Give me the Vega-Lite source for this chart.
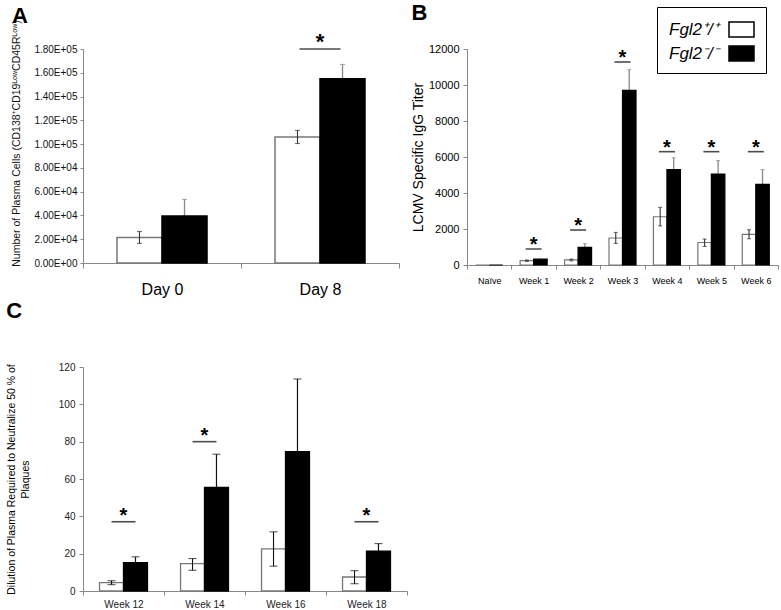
{
  "$schema": "https://vega.github.io/schema/vega-lite/v6.json",
  "background": "white",
  "padding": {"left": 6, "top": 1, "right": 2, "bottom": 2},
  "config": {
    "view": {"stroke": null},
    "font": "Liberation Sans",
    "axis": {"grid": false, "domainColor": "#888", "tickColor": "#888", "labelColor": "#111", "titleColor": "#111", "titleFontWeight": "normal", "labelFont": "Liberation Sans", "titleFont": "Liberation Sans", "labelOverlap": false},
    "axisY": {"labelOverlap": false},
    "title": {"font": "Liberation Sans", "fontWeight": "bold", "fontSize": 22, "anchor": "start", "frame": "bounds", "color": "#000"}
  },
  "datasets": {
    "a": [
      {"time": "Day 0", "genotype": "Fgl2+/+", "value": 21500, "lo": 16500, "hi": 26500},
      {"time": "Day 0", "genotype": "Fgl2-/-", "value": 39500, "lo": 25500, "hi": 53500},
      {"time": "Day 8", "genotype": "Fgl2+/+", "value": 106000, "lo": 100500, "hi": 111500},
      {"time": "Day 8", "genotype": "Fgl2-/-", "value": 155000, "lo": 143000, "hi": 167000}
    ],
    "aSig": [{"time": "Day 8", "level": 180000}],
    "b": [
      {"time": "Naïve", "genotype": "Fgl2+/+", "value": 0, "lo": 0, "hi": 0},
      {"time": "Naïve", "genotype": "Fgl2-/-", "value": 0, "lo": 0, "hi": 0},
      {"time": "Week 1", "genotype": "Fgl2+/+", "value": 240, "lo": 200, "hi": 280},
      {"time": "Week 1", "genotype": "Fgl2-/-", "value": 330, "lo": 290, "hi": 370},
      {"time": "Week 2", "genotype": "Fgl2+/+", "value": 280, "lo": 230, "hi": 330},
      {"time": "Week 2", "genotype": "Fgl2-/-", "value": 980, "lo": 780, "hi": 1185},
      {"time": "Week 3", "genotype": "Fgl2+/+", "value": 1500, "lo": 1200, "hi": 1810},
      {"time": "Week 3", "genotype": "Fgl2-/-", "value": 9700, "lo": 8580, "hi": 10850},
      {"time": "Week 4", "genotype": "Fgl2+/+", "value": 2680, "lo": 2170, "hi": 3200},
      {"time": "Week 4", "genotype": "Fgl2-/-", "value": 5300, "lo": 4640, "hi": 5960},
      {"time": "Week 5", "genotype": "Fgl2+/+", "value": 1250, "lo": 1030, "hi": 1440},
      {"time": "Week 5", "genotype": "Fgl2-/-", "value": 5050, "lo": 4300, "hi": 5800},
      {"time": "Week 6", "genotype": "Fgl2+/+", "value": 1700, "lo": 1460, "hi": 1960},
      {"time": "Week 6", "genotype": "Fgl2-/-", "value": 4480, "lo": 3670, "hi": 5300}
    ],
    "bSig": [
      {"time": "Week 1", "level": 890},
      {"time": "Week 2", "level": 1944},
      {"time": "Week 3", "level": 11278},
      {"time": "Week 4", "level": 6296},
      {"time": "Week 5", "level": 6296},
      {"time": "Week 6", "level": 6296}
    ],
    "c": [
      {"time": "Week 12", "genotype": "Fgl2+/+", "value": 4.5, "lo": 3.4, "hi": 5.5},
      {"time": "Week 12", "genotype": "Fgl2-/-", "value": 15.2, "lo": 12.1, "hi": 18.3},
      {"time": "Week 14", "genotype": "Fgl2+/+", "value": 14.7, "lo": 11.1, "hi": 17.4},
      {"time": "Week 14", "genotype": "Fgl2-/-", "value": 55.5, "lo": 37.7, "hi": 73.3},
      {"time": "Week 16", "genotype": "Fgl2+/+", "value": 22.6, "lo": 13.3, "hi": 31.7},
      {"time": "Week 16", "genotype": "Fgl2-/-", "value": 74.7, "lo": 35.8, "hi": 113.6},
      {"time": "Week 18", "genotype": "Fgl2+/+", "value": 7.5, "lo": 3.9, "hi": 10.9},
      {"time": "Week 18", "genotype": "Fgl2-/-", "value": 21.3, "lo": 17.2, "hi": 25.4}
    ],
    "cSig": [
      {"time": "Week 12", "level": 37.1},
      {"time": "Week 14", "level": 80},
      {"time": "Week 18", "level": 37.1}
    ]
  },
  "resolve": {"scale": {"fill": "independent", "xOffset": "independent"}, "legend": {"fill": "independent"}},
  "spacing": 3,
  "vconcat": [
    {
      "resolve": {"scale": {"fill": "independent", "xOffset": "independent"}, "legend": {"fill": "independent"}},
      "spacing": 11,
      "hconcat": [
        {
          "width": 316,
          "height": 214,
          "title": {"text": "A", "offset": -8},
          "encoding": {
            "x": {"field": "time", "type": "nominal", "scale": {"domain": ["Day 0", "Day 8"], "paddingInner": 0, "paddingOuter": 0},
              "axis": {"title": null, "labelAngle": 0, "tickBand": "extent", "labelFontSize": 16, "labelPadding": 13, "tickSize": 5, "labelColor": "#000"}}
          },
          "layer": [
            {
              "data": {"name": "a"},
              "transform": [{"filter": "datum.genotype == 'Fgl2-/-'"}],
              "mark": {"type": "rule", "strokeWidth": 1.3, "color": "#888"},
              "encoding": {
                "xOffset": {"field": "genotype", "type": "nominal", "scale": {"domain": ["Fgl2+/+", "Fgl2-/-"], "paddingOuter": 0.755, "paddingInner": 0}},
                "y": {"field": "lo", "type": "quantitative", "scale": {"domain": [0, 180000]},
                  "axis": {"title": "Number of Plasma Cells (CD138⁺CD19ᴸᵒʷCD45Rᴸᵒʷ)", "titleFontSize": 10.5, "titlePadding": 12, "titleY": 94, "values": [0, 20000, 40000, 60000, 80000, 100000, 120000, 140000, 160000, 180000], "labelOverlap": false, "labelExpr": "replace(format(datum.value, '.2e'), 'e+', 'E+0')", "labelFontSize": 10, "tickSize": 3, "labelPadding": 3}},
                "y2": {"field": "hi"}
              }
            },
            {
              "data": {"name": "a"},
              "mark": {"type": "bar", "strokeWidth": 1.5},
              "encoding": {
                "xOffset": {"field": "genotype", "type": "nominal", "scale": {"domain": ["Fgl2+/+", "Fgl2-/-"], "paddingOuter": 0.755, "paddingInner": 0}},
                "y": {"field": "value", "type": "quantitative", "scale": {"domain": [0, 180000]},
                  "axis": {"title": "Number of Plasma Cells (CD138⁺CD19ᴸᵒʷCD45Rᴸᵒʷ)", "titleFontSize": 10.5, "titlePadding": 12, "titleY": 94, "values": [0, 20000, 40000, 60000, 80000, 100000, 120000, 140000, 160000, 180000], "labelOverlap": false, "labelExpr": "replace(format(datum.value, '.2e'), 'e+', 'E+0')", "labelFontSize": 10, "tickSize": 3, "labelPadding": 3}},
                "fill": {"field": "genotype", "type": "nominal", "scale": {"domain": ["Fgl2+/+", "Fgl2-/-"], "range": ["#ffffff", "#000000"]}, "legend": null},
                "stroke": {"condition": {"test": "datum.genotype == 'Fgl2+/+'", "value": "#777"}, "value": "#000"}
              }
            },
            {
              "data": {"name": "a"},
              "transform": [{"filter": "datum.genotype == 'Fgl2+/+'"}],
              "mark": {"type": "rule", "strokeWidth": 1.1, "color": "#333"},
              "encoding": {
                "xOffset": {"field": "genotype", "type": "nominal", "scale": {"domain": ["Fgl2+/+", "Fgl2-/-"], "paddingOuter": 0.755, "paddingInner": 0}},
                "y": {"field": "lo", "type": "quantitative", "scale": {"domain": [0, 180000]},
                  "axis": {"title": "Number of Plasma Cells (CD138⁺CD19ᴸᵒʷCD45Rᴸᵒʷ)", "titleFontSize": 10.5, "titlePadding": 12, "titleY": 94, "values": [0, 20000, 40000, 60000, 80000, 100000, 120000, 140000, 160000, 180000], "labelOverlap": false, "labelExpr": "replace(format(datum.value, '.2e'), 'e+', 'E+0')", "labelFontSize": 10, "tickSize": 3, "labelPadding": 3}},
                "y2": {"field": "hi"}
              }
            },
            {
              "data": {"name": "a"},
              "mark": {"type": "tick", "orient": "horizontal", "size": 5, "thickness": 1.1},
              "encoding": {
                "xOffset": {"field": "genotype", "type": "nominal", "scale": {"domain": ["Fgl2+/+", "Fgl2-/-"], "paddingOuter": 0.755, "paddingInner": 0}},
                "y": {"field": "hi", "type": "quantitative", "scale": {"domain": [0, 180000]},
                  "axis": {"title": "Number of Plasma Cells (CD138⁺CD19ᴸᵒʷCD45Rᴸᵒʷ)", "titleFontSize": 10.5, "titlePadding": 12, "titleY": 94, "values": [0, 20000, 40000, 60000, 80000, 100000, 120000, 140000, 160000, 180000], "labelOverlap": false, "labelExpr": "replace(format(datum.value, '.2e'), 'e+', 'E+0')", "labelFontSize": 10, "tickSize": 3, "labelPadding": 3}},
                "color": {"condition": {"test": "datum.genotype == 'Fgl2+/+'", "value": "#333"}, "value": "#888"}
              }
            },
            {
              "data": {"name": "a"},
              "transform": [{"filter": "datum.genotype == 'Fgl2+/+'"}],
              "mark": {"type": "tick", "orient": "horizontal", "size": 5, "thickness": 1.1, "color": "#333"},
              "encoding": {
                "xOffset": {"field": "genotype", "type": "nominal", "scale": {"domain": ["Fgl2+/+", "Fgl2-/-"], "paddingOuter": 0.755, "paddingInner": 0}},
                "y": {"field": "lo", "type": "quantitative", "scale": {"domain": [0, 180000]},
                  "axis": {"title": "Number of Plasma Cells (CD138⁺CD19ᴸᵒʷCD45Rᴸᵒʷ)", "titleFontSize": 10.5, "titlePadding": 12, "titleY": 94, "values": [0, 20000, 40000, 60000, 80000, 100000, 120000, 140000, 160000, 180000], "labelOverlap": false, "labelExpr": "replace(format(datum.value, '.2e'), 'e+', 'E+0')", "labelFontSize": 10, "tickSize": 3, "labelPadding": 3}}
              }
            },
            {
              "data": {"name": "aSig"},
              "mark": {"type": "tick", "orient": "horizontal", "size": 41, "thickness": 1.6, "color": "#000"},
              "encoding": {"y": {"field": "level", "type": "quantitative", "scale": {"domain": [0, 180000]},
                  "axis": {"title": "Number of Plasma Cells (CD138⁺CD19ᴸᵒʷCD45Rᴸᵒʷ)", "titleFontSize": 10.5, "titlePadding": 12, "titleY": 94, "values": [0, 20000, 40000, 60000, 80000, 100000, 120000, 140000, 160000, 180000], "labelOverlap": false, "labelExpr": "replace(format(datum.value, '.2e'), 'e+', 'E+0')", "labelFontSize": 10, "tickSize": 3, "labelPadding": 3}}}
            },
            {
              "data": {"name": "aSig"},
              "mark": {"type": "text", "text": "*", "fontSize": 22, "fontWeight": "bold", "baseline": "alphabetic", "dy": 0, "color": "#000"},
              "encoding": {"y": {"field": "level", "type": "quantitative", "scale": {"domain": [0, 180000]},
                  "axis": {"title": "Number of Plasma Cells (CD138⁺CD19ᴸᵒʷCD45Rᴸᵒʷ)", "titleFontSize": 10.5, "titlePadding": 12, "titleY": 94, "values": [0, 20000, 40000, 60000, 80000, 100000, 120000, 140000, 160000, 180000], "labelOverlap": false, "labelExpr": "replace(format(datum.value, '.2e'), 'e+', 'E+0')", "labelFontSize": 10, "tickSize": 3, "labelPadding": 3}}}
            }
          ]
        },
        {
          "width": 311,
          "height": 216,
          "title": {"text": "B", "offset": -18},
          "encoding": {
            "x": {"field": "time", "type": "nominal", "scale": {"domain": ["Naïve", "Week 1", "Week 2", "Week 3", "Week 4", "Week 5", "Week 6"], "paddingInner": 0, "paddingOuter": 0},
              "axis": {"title": null, "labelAngle": 0, "tickBand": "extent", "labelFontSize": 9, "labelPadding": 7, "tickSize": 4, "labelColor": "#000"}}
          },
          "layer": [
            {
              "data": {"name": "b"},
              "transform": [{"filter": "datum.genotype == 'Fgl2-/-'"}],
              "mark": {"type": "rule", "strokeWidth": 1.3, "color": "#888"},
              "encoding": {
                "xOffset": {"field": "genotype", "type": "nominal", "scale": {"domain": ["Fgl2+/+", "Fgl2-/-"], "paddingOuter": 0.645, "paddingInner": 0}},
                "y": {"field": "lo", "type": "quantitative", "scale": {"domain": [0, 12000]},
                  "axis": {"title": "LCMV Specific IgG Titer", "titleFontSize": 14, "titlePadding": 3, "values": [0, 2000, 4000, 6000, 8000, 10000, 12000], "labelOverlap": false, "format": "d", "labelFontSize": 11, "tickSize": 4, "labelPadding": 4, "labelColor": "#000", "titleColor": "#000"}},
                "y2": {"field": "hi"}
              }
            },
            {
              "data": {"name": "b"},
              "mark": {"type": "bar", "strokeWidth": 1.2},
              "encoding": {
                "xOffset": {"field": "genotype", "type": "nominal", "scale": {"domain": ["Fgl2+/+", "Fgl2-/-"], "paddingOuter": 0.645, "paddingInner": 0}},
                "y": {"field": "value", "type": "quantitative", "scale": {"domain": [0, 12000]},
                  "axis": {"title": "LCMV Specific IgG Titer", "titleFontSize": 14, "titlePadding": 3, "values": [0, 2000, 4000, 6000, 8000, 10000, 12000], "labelOverlap": false, "format": "d", "labelFontSize": 11, "tickSize": 4, "labelPadding": 4, "labelColor": "#000", "titleColor": "#000"}},
                "fill": {"field": "genotype", "type": "nominal", "scale": {"domain": ["Fgl2+/+", "Fgl2-/-"], "range": ["#ffffff", "#000000"]},
                  "legend": {"orient": "none", "legendX": 190, "legendY": -42, "title": null, "strokeColor": "#000", "padding": 9,
                    "symbolType": "M-1,-0.6H1V0.6H-1Z", "symbolSize": 625, "symbolStrokeColor": "#000", "symbolStrokeWidth": 1.5,
                    "symbolOffset": 62, "labelOffset": -86, "labelFontSize": 17, "labelFontStyle": "italic", "labelColor": "#000", "rowPadding": 0,
                    "labelExpr": "datum.label == 'Fgl2+/+' ? 'Fgl2⁺/⁺' : 'Fgl2⁻/⁻'"}},
                "stroke": {"condition": {"test": "datum.genotype == 'Fgl2+/+'", "value": "#777"}, "value": "#000"}
              }
            },
            {
              "data": {"name": "b"},
              "transform": [{"filter": "datum.genotype == 'Fgl2+/+' && datum.hi > 0"}],
              "mark": {"type": "rule", "strokeWidth": 1.1, "color": "#333"},
              "encoding": {
                "xOffset": {"field": "genotype", "type": "nominal", "scale": {"domain": ["Fgl2+/+", "Fgl2-/-"], "paddingOuter": 0.645, "paddingInner": 0}},
                "y": {"field": "lo", "type": "quantitative", "scale": {"domain": [0, 12000]},
                  "axis": {"title": "LCMV Specific IgG Titer", "titleFontSize": 14, "titlePadding": 3, "values": [0, 2000, 4000, 6000, 8000, 10000, 12000], "labelOverlap": false, "format": "d", "labelFontSize": 11, "tickSize": 4, "labelPadding": 4, "labelColor": "#000", "titleColor": "#000"}},
                "y2": {"field": "hi"}
              }
            },
            {
              "data": {"name": "b"},
              "transform": [{"filter": "datum.hi > 0"}],
              "mark": {"type": "tick", "orient": "horizontal", "size": 4, "thickness": 1.1},
              "encoding": {
                "xOffset": {"field": "genotype", "type": "nominal", "scale": {"domain": ["Fgl2+/+", "Fgl2-/-"], "paddingOuter": 0.645, "paddingInner": 0}},
                "y": {"field": "hi", "type": "quantitative", "scale": {"domain": [0, 12000]},
                  "axis": {"title": "LCMV Specific IgG Titer", "titleFontSize": 14, "titlePadding": 3, "values": [0, 2000, 4000, 6000, 8000, 10000, 12000], "labelOverlap": false, "format": "d", "labelFontSize": 11, "tickSize": 4, "labelPadding": 4, "labelColor": "#000", "titleColor": "#000"}},
                "color": {"condition": {"test": "datum.genotype == 'Fgl2+/+'", "value": "#333"}, "value": "#888"}
              }
            },
            {
              "data": {"name": "b"},
              "transform": [{"filter": "datum.genotype == 'Fgl2+/+' && datum.hi > 0"}],
              "mark": {"type": "tick", "orient": "horizontal", "size": 4, "thickness": 1.1, "color": "#333"},
              "encoding": {
                "xOffset": {"field": "genotype", "type": "nominal", "scale": {"domain": ["Fgl2+/+", "Fgl2-/-"], "paddingOuter": 0.645, "paddingInner": 0}},
                "y": {"field": "lo", "type": "quantitative", "scale": {"domain": [0, 12000]},
                  "axis": {"title": "LCMV Specific IgG Titer", "titleFontSize": 14, "titlePadding": 3, "values": [0, 2000, 4000, 6000, 8000, 10000, 12000], "labelOverlap": false, "format": "d", "labelFontSize": 11, "tickSize": 4, "labelPadding": 4, "labelColor": "#000", "titleColor": "#000"}}
              }
            },
            {
              "data": {"name": "bSig"},
              "mark": {"type": "tick", "orient": "horizontal", "size": 16, "thickness": 1.6, "color": "#000"},
              "encoding": {"y": {"field": "level", "type": "quantitative", "scale": {"domain": [0, 12000]},
                  "axis": {"title": "LCMV Specific IgG Titer", "titleFontSize": 14, "titlePadding": 3, "values": [0, 2000, 4000, 6000, 8000, 10000, 12000], "labelOverlap": false, "format": "d", "labelFontSize": 11, "tickSize": 4, "labelPadding": 4, "labelColor": "#000", "titleColor": "#000"}}}
            },
            {
              "data": {"name": "bSig"},
              "mark": {"type": "text", "text": "*", "fontSize": 20, "fontWeight": "bold", "baseline": "alphabetic", "dy": 2, "color": "#000"},
              "encoding": {"y": {"field": "level", "type": "quantitative", "scale": {"domain": [0, 12000]},
                  "axis": {"title": "LCMV Specific IgG Titer", "titleFontSize": 14, "titlePadding": 3, "values": [0, 2000, 4000, 6000, 8000, 10000, 12000], "labelOverlap": false, "format": "d", "labelFontSize": 11, "tickSize": 4, "labelPadding": 4, "labelColor": "#000", "titleColor": "#000"}}}
            }
          ]
        }
      ]
    },
    {
      "width": 324,
      "height": 224,
      "title": {"text": "C", "offset": 39},
      "encoding": {
        "x": {"field": "time", "type": "nominal", "scale": {"domain": ["Week 12", "Week 14", "Week 16", "Week 18"], "paddingInner": 0, "paddingOuter": 0},
          "axis": {"title": null, "labelAngle": 0, "tickBand": "extent", "labelFontSize": 10, "labelPadding": 4, "tickSize": 4, "labelColor": "#222"}}
      },
      "layer": [
        {
          "data": {"name": "c"},
          "transform": [{"filter": "datum.genotype == 'Fgl2-/-'"}],
          "mark": {"type": "rule", "strokeWidth": 1.2, "color": "#111"},
          "encoding": {
            "xOffset": {"field": "genotype", "type": "nominal", "scale": {"domain": ["Fgl2+/+", "Fgl2-/-"], "paddingOuter": 0.69, "paddingInner": 0}},
            "y": {"field": "lo", "type": "quantitative", "scale": {"domain": [0, 120]},
              "axis": {"title": ["Dilution of Plasma Required to Neutralize 50 % of", "Plaques"], "titleFontSize": 10.5, "titleLineHeight": 14, "titlePadding": 28, "values": [0, 20, 40, 60, 80, 100, 120], "labelOverlap": false, "labelFontSize": 10, "tickSize": 4, "labelPadding": 4, "labelColor": "#222", "titleColor": "#000"}},
            "y2": {"field": "hi"}
          }
        },
        {
          "data": {"name": "c"},
          "mark": {"type": "bar", "strokeWidth": 1.3},
          "encoding": {
            "xOffset": {"field": "genotype", "type": "nominal", "scale": {"domain": ["Fgl2+/+", "Fgl2-/-"], "paddingOuter": 0.69, "paddingInner": 0}},
            "y": {"field": "value", "type": "quantitative", "scale": {"domain": [0, 120]},
              "axis": {"title": ["Dilution of Plasma Required to Neutralize 50 % of", "Plaques"], "titleFontSize": 10.5, "titleLineHeight": 14, "titlePadding": 28, "values": [0, 20, 40, 60, 80, 100, 120], "labelOverlap": false, "labelFontSize": 10, "tickSize": 4, "labelPadding": 4, "labelColor": "#222", "titleColor": "#000"}},
            "fill": {"field": "genotype", "type": "nominal", "scale": {"domain": ["Fgl2+/+", "Fgl2-/-"], "range": ["#ffffff", "#000000"]}, "legend": null},
            "stroke": {"condition": {"test": "datum.genotype == 'Fgl2+/+'", "value": "#777"}, "value": "#000"}
          }
        },
        {
          "data": {"name": "c"},
          "transform": [{"filter": "datum.genotype == 'Fgl2+/+'"}],
          "mark": {"type": "rule", "strokeWidth": 1.1, "color": "#111"},
          "encoding": {
            "xOffset": {"field": "genotype", "type": "nominal", "scale": {"domain": ["Fgl2+/+", "Fgl2-/-"], "paddingOuter": 0.69, "paddingInner": 0}},
            "y": {"field": "lo", "type": "quantitative", "scale": {"domain": [0, 120]},
              "axis": {"title": ["Dilution of Plasma Required to Neutralize 50 % of", "Plaques"], "titleFontSize": 10.5, "titleLineHeight": 14, "titlePadding": 28, "values": [0, 20, 40, 60, 80, 100, 120], "labelOverlap": false, "labelFontSize": 10, "tickSize": 4, "labelPadding": 4, "labelColor": "#222", "titleColor": "#000"}},
            "y2": {"field": "hi"}
          }
        },
        {
          "data": {"name": "c"},
          "mark": {"type": "tick", "orient": "horizontal", "size": 8, "thickness": 1.1, "color": "#111"},
          "encoding": {
            "xOffset": {"field": "genotype", "type": "nominal", "scale": {"domain": ["Fgl2+/+", "Fgl2-/-"], "paddingOuter": 0.69, "paddingInner": 0}},
            "y": {"field": "hi", "type": "quantitative", "scale": {"domain": [0, 120]},
              "axis": {"title": ["Dilution of Plasma Required to Neutralize 50 % of", "Plaques"], "titleFontSize": 10.5, "titleLineHeight": 14, "titlePadding": 28, "values": [0, 20, 40, 60, 80, 100, 120], "labelOverlap": false, "labelFontSize": 10, "tickSize": 4, "labelPadding": 4, "labelColor": "#222", "titleColor": "#000"}}
          }
        },
        {
          "data": {"name": "c"},
          "transform": [{"filter": "datum.genotype == 'Fgl2+/+'"}],
          "mark": {"type": "tick", "orient": "horizontal", "size": 8, "thickness": 1.1, "color": "#111"},
          "encoding": {
            "xOffset": {"field": "genotype", "type": "nominal", "scale": {"domain": ["Fgl2+/+", "Fgl2-/-"], "paddingOuter": 0.69, "paddingInner": 0}},
            "y": {"field": "lo", "type": "quantitative", "scale": {"domain": [0, 120]},
              "axis": {"title": ["Dilution of Plasma Required to Neutralize 50 % of", "Plaques"], "titleFontSize": 10.5, "titleLineHeight": 14, "titlePadding": 28, "values": [0, 20, 40, 60, 80, 100, 120], "labelOverlap": false, "labelFontSize": 10, "tickSize": 4, "labelPadding": 4, "labelColor": "#222", "titleColor": "#000"}}
          }
        },
        {
          "data": {"name": "cSig"},
          "mark": {"type": "tick", "orient": "horizontal", "size": 24, "thickness": 1.6, "color": "#000"},
          "encoding": {"y": {"field": "level", "type": "quantitative", "scale": {"domain": [0, 120]},
              "axis": {"title": ["Dilution of Plasma Required to Neutralize 50 % of", "Plaques"], "titleFontSize": 10.5, "titleLineHeight": 14, "titlePadding": 28, "values": [0, 20, 40, 60, 80, 100, 120], "labelOverlap": false, "labelFontSize": 10, "tickSize": 4, "labelPadding": 4, "labelColor": "#222", "titleColor": "#000"}}}
        },
        {
          "data": {"name": "cSig"},
          "mark": {"type": "text", "text": "*", "fontSize": 20, "fontWeight": "bold", "baseline": "alphabetic", "dy": 0, "color": "#000"},
          "encoding": {"y": {"field": "level", "type": "quantitative", "scale": {"domain": [0, 120]},
              "axis": {"title": ["Dilution of Plasma Required to Neutralize 50 % of", "Plaques"], "titleFontSize": 10.5, "titleLineHeight": 14, "titlePadding": 28, "values": [0, 20, 40, 60, 80, 100, 120], "labelOverlap": false, "labelFontSize": 10, "tickSize": 4, "labelPadding": 4, "labelColor": "#222", "titleColor": "#000"}}}
        }
      ]
    }
  ]
}
